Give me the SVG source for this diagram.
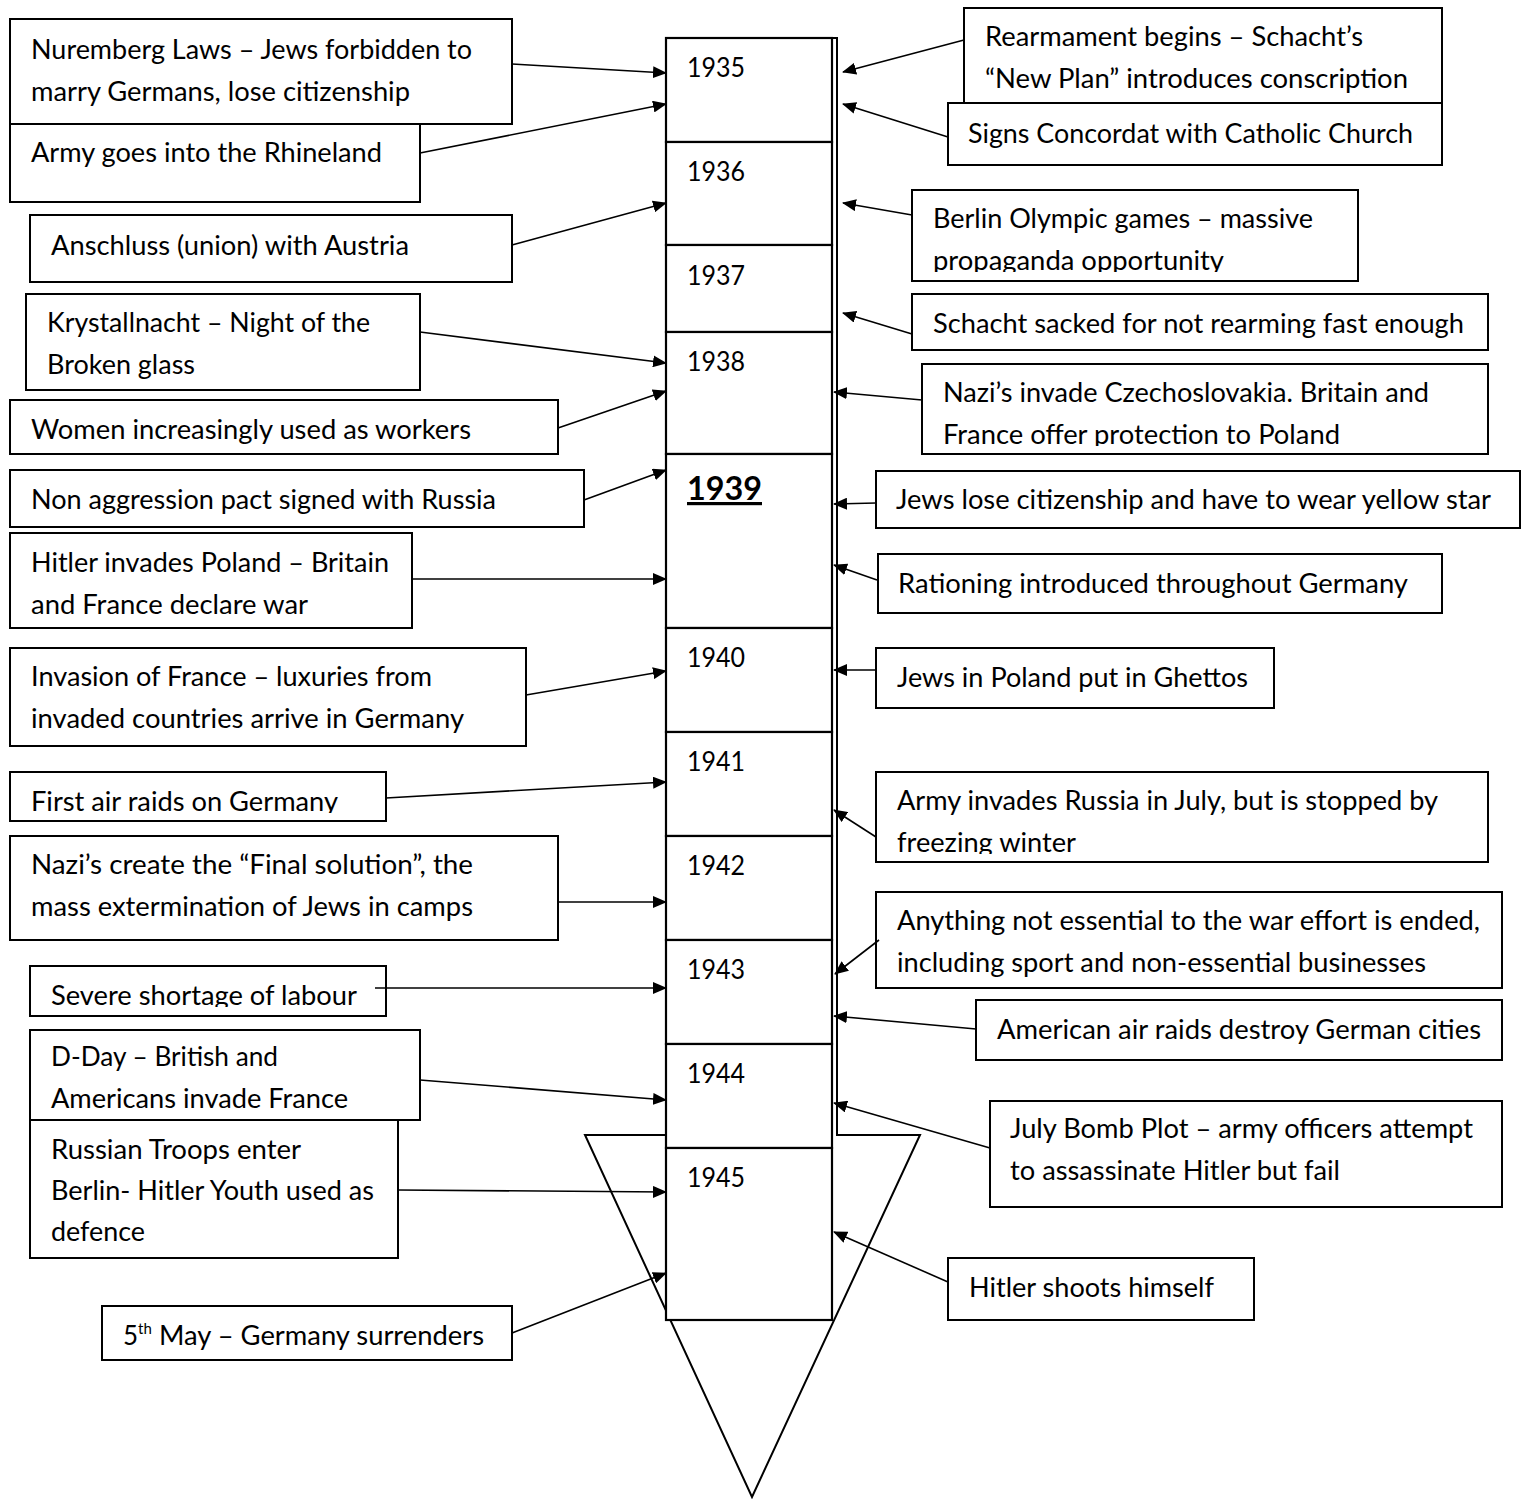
<svg xmlns="http://www.w3.org/2000/svg" width="1533" height="1499" viewBox="0 0 1533 1499">
<style>
.bx{fill:#fff;stroke:#000;stroke-width:2}
.yr{fill:#fff;stroke:#000;stroke-width:2.2}
.t{font-family:Lato,"Open Sans","Liberation Sans",sans-serif;font-size:26px;fill:#000}
.c{fill:none;stroke:#000;stroke-width:1.6;marker-end:url(#ah)}
</style>
<defs>
<marker id="ah" viewBox="0 0 14 12" refX="13" refY="6" markerWidth="14" markerHeight="12" markerUnits="userSpaceOnUse" orient="auto"><path d="M0,0 L14,6 L0,12 z" fill="#000"/></marker>
<clipPath id="cp1"><rect x="912" y="190" width="446" height="82"/></clipPath>
<clipPath id="cp2"><rect x="922" y="364" width="566" height="82"/></clipPath>
<clipPath id="cp3"><rect x="876" y="772" width="612" height="82"/></clipPath>
<clipPath id="cp4"><rect x="10" y="772" width="376" height="41"/></clipPath>
<clipPath id="cp5"><rect x="30" y="966" width="356" height="41"/></clipPath>
</defs>

<g id="timeline">
<polygon points="666,38 837,38 837,1135 920,1135 752,1497 585,1135 666,1135" fill="#fff" stroke="#000" stroke-width="2"/>
</g>

<g id="years">
<g id="y1935"><rect class="yr" x="666" y="38" width="166" height="104"/><text class="t" x="687" y="77" textLength="58" lengthAdjust="spacingAndGlyphs">1935</text></g>
<g id="y1936"><rect class="yr" x="666" y="142" width="166" height="103"/><text class="t" x="687" y="181" textLength="58" lengthAdjust="spacingAndGlyphs">1936</text></g>
<g id="y1937"><rect class="yr" x="666" y="245" width="166" height="87"/><text class="t" x="687" y="285" textLength="58" lengthAdjust="spacingAndGlyphs">1937</text></g>
<g id="y1938"><rect class="yr" x="666" y="332" width="166" height="122"/><text class="t" x="687" y="371" textLength="58" lengthAdjust="spacingAndGlyphs">1938</text></g>
<g id="y1939"><rect class="yr" x="666" y="454" width="166" height="174"/><text class="t" x="687" y="500" style="font-size:32px;font-weight:bold" text-decoration="underline" textLength="75" lengthAdjust="spacingAndGlyphs">1939</text></g>
<g id="y1940"><rect class="yr" x="666" y="628" width="166" height="104"/><text class="t" x="687" y="667" textLength="58" lengthAdjust="spacingAndGlyphs">1940</text></g>
<g id="y1941"><rect class="yr" x="666" y="732" width="166" height="104"/><text class="t" x="687" y="771" textLength="58" lengthAdjust="spacingAndGlyphs">1941</text></g>
<g id="y1942"><rect class="yr" x="666" y="836" width="166" height="104"/><text class="t" x="687" y="875" textLength="58" lengthAdjust="spacingAndGlyphs">1942</text></g>
<g id="y1943"><rect class="yr" x="666" y="940" width="166" height="104"/><text class="t" x="687" y="979" textLength="58" lengthAdjust="spacingAndGlyphs">1943</text></g>
<g id="y1944"><rect class="yr" x="666" y="1044" width="166" height="104"/><text class="t" x="687" y="1083" textLength="58" lengthAdjust="spacingAndGlyphs">1944</text></g>
<g id="y1945"><rect class="yr" x="666" y="1148" width="166" height="172"/><text class="t" x="687" y="1187" textLength="58" lengthAdjust="spacingAndGlyphs">1945</text></g>
</g>

<g id="left-events">
<g id="n-nuremberg"><rect class="bx" x="10" y="19" width="502" height="105"/>
<text class="t" x="31" y="59" textLength="441" lengthAdjust="spacingAndGlyphs">Nuremberg Laws – Jews forbidden to</text>
<text class="t" x="31" y="101" textLength="379" lengthAdjust="spacingAndGlyphs">marry Germans, lose citizenship</text></g>
<g id="n-rhineland"><rect class="bx" x="10" y="124" width="410" height="78"/>
<text class="t" x="31" y="162" textLength="351" lengthAdjust="spacingAndGlyphs">Army goes into the Rhineland</text></g>
<g id="n-anschluss"><rect class="bx" x="30" y="215" width="482" height="67"/>
<text class="t" x="51" y="255" textLength="358" lengthAdjust="spacingAndGlyphs">Anschluss (union) with Austria</text></g>
<g id="n-krystallnacht"><rect class="bx" x="26" y="294" width="394" height="96"/>
<text class="t" x="47" y="332" textLength="323" lengthAdjust="spacingAndGlyphs">Krystallnacht – Night of the</text>
<text class="t" x="47" y="374" textLength="148" lengthAdjust="spacingAndGlyphs">Broken glass</text></g>
<g id="n-women"><rect class="bx" x="10" y="400" width="548" height="54"/>
<text class="t" x="31" y="439" textLength="440" lengthAdjust="spacingAndGlyphs">Women increasingly used as workers</text></g>
<g id="n-pact"><rect class="bx" x="10" y="470" width="574" height="57"/>
<text class="t" x="31" y="509" textLength="465" lengthAdjust="spacingAndGlyphs">Non aggression pact signed with Russia</text></g>
<g id="n-poland"><rect class="bx" x="10" y="533" width="402" height="95"/>
<text class="t" x="31" y="572" textLength="358" lengthAdjust="spacingAndGlyphs">Hitler invades Poland – Britain</text>
<text class="t" x="31" y="614" textLength="277" lengthAdjust="spacingAndGlyphs">and France declare war</text></g>
<g id="n-france"><rect class="bx" x="10" y="648" width="516" height="98"/>
<text class="t" x="31" y="686" textLength="401" lengthAdjust="spacingAndGlyphs">Invasion of France – luxuries from</text>
<text class="t" x="31" y="728" textLength="433" lengthAdjust="spacingAndGlyphs">invaded countries arrive in Germany</text></g>
<g id="n-airraids"><rect class="bx" x="10" y="772" width="376" height="49"/>
<text class="t" x="31" y="811" textLength="307" lengthAdjust="spacingAndGlyphs" clip-path="url(#cp4)">First air raids on Germany</text></g>
<g id="n-final"><rect class="bx" x="10" y="836" width="548" height="104"/>
<text class="t" x="31" y="874" textLength="442" lengthAdjust="spacingAndGlyphs">Nazi’s create the “Final solution”, the</text>
<text class="t" x="31" y="916" textLength="442" lengthAdjust="spacingAndGlyphs">mass extermination of Jews in camps</text></g>
<g id="n-labour"><rect class="bx" x="30" y="966" width="356" height="50"/>
<text class="t" x="51" y="1005" textLength="306" lengthAdjust="spacingAndGlyphs" clip-path="url(#cp5)">Severe shortage of labour</text></g>
<g id="n-dday"><rect class="bx" x="30" y="1030" width="390" height="90"/>
<text class="t" x="51" y="1066" textLength="227" lengthAdjust="spacingAndGlyphs">D-Day – British and</text>
<text class="t" x="51" y="1108" textLength="297" lengthAdjust="spacingAndGlyphs">Americans invade France</text></g>
<g id="n-russian"><rect class="bx" x="30" y="1120" width="368" height="138"/>
<text class="t" x="51" y="1159" textLength="250" lengthAdjust="spacingAndGlyphs">Russian Troops enter</text>
<text class="t" x="51" y="1200" textLength="323" lengthAdjust="spacingAndGlyphs">Berlin- Hitler Youth used as</text>
<text class="t" x="51" y="1241" textLength="94" lengthAdjust="spacingAndGlyphs">defence</text></g>
<g id="n-surrender"><rect class="bx" x="102" y="1306" width="410" height="54"/>
<text class="t" x="123" y="1345">5</text>
<text class="t" x="138" y="1334" style="font-size:15px">th</text>
<text class="t" x="159" y="1345" textLength="325" lengthAdjust="spacingAndGlyphs">May – Germany surrenders</text></g>
</g>

<g id="right-events">
<g id="n-rearmament"><rect class="bx" x="964" y="8" width="478" height="95"/>
<text class="t" x="985" y="46" textLength="378" lengthAdjust="spacingAndGlyphs">Rearmament begins – Schacht’s</text>
<text class="t" x="985" y="88" textLength="423" lengthAdjust="spacingAndGlyphs">“New Plan” introduces conscription</text></g>
<g id="n-concordat"><rect class="bx" x="948" y="103" width="494" height="62"/>
<text class="t" x="968" y="143" textLength="445" lengthAdjust="spacingAndGlyphs">Signs Concordat with Catholic Church</text></g>
<g id="n-olympics"><rect class="bx" x="912" y="190" width="446" height="91"/>
<text class="t" x="933" y="228" textLength="380" lengthAdjust="spacingAndGlyphs">Berlin Olympic games – massive</text>
<text class="t" x="933" y="270" textLength="291" lengthAdjust="spacingAndGlyphs" clip-path="url(#cp1)">propaganda opportunity</text></g>
<g id="n-schacht"><rect class="bx" x="912" y="294" width="576" height="56"/>
<text class="t" x="933" y="333" textLength="531" lengthAdjust="spacingAndGlyphs">Schacht sacked for not rearming fast enough</text></g>
<g id="n-czech"><rect class="bx" x="922" y="364" width="566" height="90"/>
<text class="t" x="943" y="402" textLength="486" lengthAdjust="spacingAndGlyphs">Nazi’s invade Czechoslovakia. Britain and</text>
<text class="t" x="943" y="444" textLength="397" lengthAdjust="spacingAndGlyphs" clip-path="url(#cp2)">France offer protection to Poland</text></g>
<g id="n-star"><rect class="bx" x="876" y="471" width="644" height="57"/>
<text class="t" x="896" y="509" textLength="595" lengthAdjust="spacingAndGlyphs">Jews lose citizenship and have to wear yellow star</text></g>
<g id="n-rationing"><rect class="bx" x="878" y="554" width="564" height="59"/>
<text class="t" x="898" y="593" textLength="510" lengthAdjust="spacingAndGlyphs">Rationing introduced throughout Germany</text></g>
<g id="n-ghettos"><rect class="bx" x="876" y="648" width="398" height="60"/>
<text class="t" x="897" y="687" textLength="351" lengthAdjust="spacingAndGlyphs">Jews in Poland put in Ghettos</text></g>
<g id="n-russia"><rect class="bx" x="876" y="772" width="612" height="90"/>
<text class="t" x="897" y="810" textLength="541" lengthAdjust="spacingAndGlyphs">Army invades Russia in July, but is stopped by</text>
<text class="t" x="897" y="852" textLength="179" lengthAdjust="spacingAndGlyphs" clip-path="url(#cp3)">freezing winter</text></g>
<g id="n-essential"><rect class="bx" x="876" y="892" width="626" height="96"/>
<text class="t" x="897" y="930" textLength="583" lengthAdjust="spacingAndGlyphs">Anything not essential to the war effort is ended,</text>
<text class="t" x="897" y="972" textLength="529" lengthAdjust="spacingAndGlyphs">including sport and non-essential businesses</text></g>
<g id="n-american"><rect class="bx" x="976" y="1000" width="526" height="60"/>
<text class="t" x="997" y="1039" textLength="484" lengthAdjust="spacingAndGlyphs">American air raids destroy German cities</text></g>
<g id="n-bombplot"><rect class="bx" x="990" y="1101" width="512" height="106"/>
<text class="t" x="1010" y="1138" textLength="463" lengthAdjust="spacingAndGlyphs">July Bomb Plot – army officers attempt</text>
<text class="t" x="1010" y="1180" textLength="330" lengthAdjust="spacingAndGlyphs">to assassinate Hitler but fail</text></g>
<g id="n-suicide"><rect class="bx" x="948" y="1258" width="306" height="62"/>
<text class="t" x="969" y="1297" textLength="245" lengthAdjust="spacingAndGlyphs">Hitler shoots himself</text></g>
</g>

<g id="connectors">
<line class="c" x1="512" y1="64" x2="666" y2="73"/>
<line class="c" x1="420" y1="153" x2="666" y2="104"/>
<line class="c" x1="512" y1="245" x2="666" y2="203"/>
<line class="c" x1="420" y1="332" x2="666" y2="363"/>
<line class="c" x1="558" y1="428" x2="666" y2="391"/>
<line class="c" x1="584" y1="500" x2="666" y2="470"/>
<line class="c" x1="412" y1="579" x2="666" y2="579"/>
<line class="c" x1="526" y1="695" x2="666" y2="671"/>
<line class="c" x1="386" y1="798" x2="666" y2="782"/>
<line class="c" x1="558" y1="902" x2="666" y2="902"/>
<line class="c" x1="375" y1="988" x2="666" y2="988"/>
<line class="c" x1="420" y1="1080" x2="666" y2="1100"/>
<line class="c" x1="398" y1="1190" x2="666" y2="1192"/>
<line class="c" x1="512" y1="1333" x2="666" y2="1273"/>
<line class="c" x1="964" y1="40" x2="843" y2="72"/>
<line class="c" x1="948" y1="137" x2="843" y2="104"/>
<line class="c" x1="912" y1="215" x2="843" y2="203"/>
<line class="c" x1="912" y1="334" x2="843" y2="313"/>
<line class="c" x1="922" y1="400" x2="834" y2="392"/>
<line class="c" x1="876" y1="503" x2="834" y2="504"/>
<line class="c" x1="877" y1="580" x2="834" y2="565"/>
<line class="c" x1="876" y1="670" x2="834" y2="670"/>
<line class="c" x1="876" y1="837" x2="834" y2="810"/>
<line class="c" x1="879" y1="940" x2="835" y2="974"/>
<line class="c" x1="976" y1="1029" x2="834" y2="1016"/>
<line class="c" x1="990" y1="1148" x2="834" y2="1103"/>
<line class="c" x1="948" y1="1282" x2="834" y2="1232"/>
</g>
</svg>
